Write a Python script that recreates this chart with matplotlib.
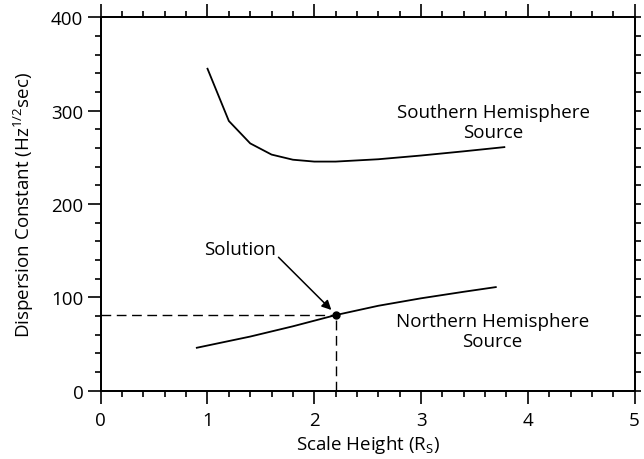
import matplotlib
matplotlib.use("Agg")
import matplotlib.pyplot as plt
from matplotlib.ticker import MultipleLocator

plt.rcParams['font.family'] = ['Open Sans', 'DejaVu Sans']
plt.rcParams['mathtext.fontset'] = 'custom'
plt.rcParams['mathtext.rm'] = 'Open Sans'
plt.rcParams['mathtext.it'] = 'Open Sans:italic'

# curves
south_x = [1.0, 1.2, 1.4, 1.6, 1.8, 2.0, 2.2, 2.6, 3.0, 3.4, 3.78]
south_y = [345, 289, 265, 253, 247.5, 245.5, 245.5, 248, 252, 256.5, 261]
north_x = [0.9, 1.4, 1.8, 2.2, 2.6, 3.0, 3.4, 3.7]
north_y = [46, 58, 69, 81, 91, 99, 106, 111]
solution = (2.2, 81)

FS = 13.5

fig = plt.figure(figsize=(6.44, 4.6), dpi=100)
ax = fig.add_axes([0.1564, 0.1485, 0.829, 0.8115])

ax.plot(south_x, south_y, color='black', lw=1.3)
ax.plot(north_x, north_y, color='black', lw=1.3)

# dashed guide lines to the solution
ax.plot([0, solution[0]], [solution[1], solution[1]], color='black', lw=1.0, dashes=(7, 4))
ax.plot([solution[0], solution[0]], [0, solution[1]], color='black', lw=1.0, dashes=(7, 4))
ax.plot(*solution, 'o', color='black', ms=5)

ax.annotate('', xy=(2.16, 86.5), xytext=(1.665, 143),
            arrowprops=dict(arrowstyle='-|>', color='black', lw=1.1,
                            mutation_scale=14, shrinkA=0, shrinkB=0))
ax.text(1.30, 151.5, 'Solution', ha='center', va='center', fontsize=FS)
ax.text(3.68, 288, 'Southern Hemisphere\nSource', ha='center', va='center',
        fontsize=FS, linespacing=1.15)
ax.text(3.67, 64, 'Northern Hemisphere\nSource', ha='center', va='center',
        fontsize=FS, linespacing=1.15)

ax.set_xlim(0, 5)
ax.set_ylim(0, 400)
ax.xaxis.set_major_locator(MultipleLocator(1))
ax.xaxis.set_minor_locator(MultipleLocator(0.2))
ax.yaxis.set_major_locator(MultipleLocator(100))
ax.yaxis.set_minor_locator(MultipleLocator(20))
ax.tick_params(which='both', direction='out', top=True, right=False,
               width=1.2, labelsize=FS)
ax.tick_params(which='major', length=9.5)
ax.tick_params(which='minor', length=4.5)
ax.tick_params(axis='x', which='major', pad=5)
ax.tick_params(axis='y', which='major', pad=3)

# right side: short ticks only
ax2 = ax.twinx()
ax2.set_ylim(0, 400)
ax2.yaxis.set_major_locator(MultipleLocator(20))
ax2.tick_params(direction='out', length=4.5, width=1.2, labelright=False)

for a in (ax, ax2):
    for s in a.spines.values():
        s.set_linewidth(1.3)

ax.set_xlabel('Scale Height (R$_\\mathrm{S}$)', fontsize=FS, labelpad=3)
ax.set_ylabel('Dispersion Constant (Hz$^\\mathrm{1/2}$sec)', fontsize=FS, labelpad=11)

fig.savefig('out.png', dpi=100)
